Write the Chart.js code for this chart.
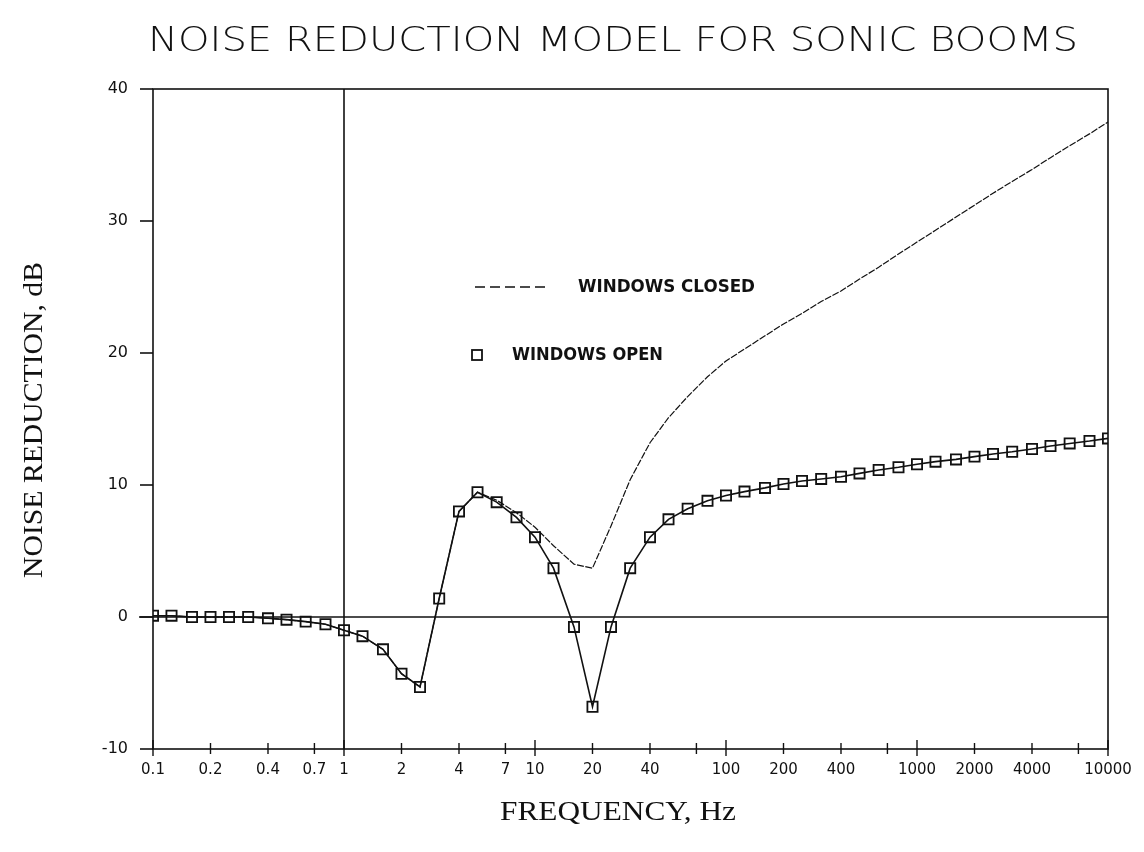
<!DOCTYPE html>
<html><head><meta charset="utf-8">
<script src="https://cdn.jsdelivr.net/npm/chart.js@4.4.1/dist/chart.umd.min.js"></script>
<style>html,body{margin:0;padding:0;background:#fff;} canvas{display:block;}</style>
</head><body>
<canvas id="c" width="1144" height="852"></canvas>
<script>
// ---- data (third-octave band frequencies, Hz) ----
const frequencies = [0.1,0.125,0.16,0.2,0.25,0.315,0.4,0.5,0.63,0.8,
  1,1.25,1.6,2,2.5,3.15,4,5,6.3,8,
  10,12.5,16,20,25,31.5,40,50,63,80,
  100,125,160,200,250,315,400,500,630,800,
  1000,1250,1600,2000,2500,3150,4000,5000,6300,8000,10000];
const windowsOpen = [0.1,0.1,0,0,0,0,-0.1,-0.2,-0.35,-0.55,
  -1.0,-1.45,-2.45,-4.3,-5.3,1.4,8.0,9.45,8.7,7.55,
  6.05,3.7,-0.75,-6.8,-0.75,3.7,6.05,7.4,8.2,8.8,
  9.2,9.5,9.78,10.08,10.3,10.46,10.63,10.88,11.14,11.34,
  11.57,11.77,11.94,12.15,12.35,12.52,12.73,12.95,13.15,13.33,13.53];
const windowsClosed = [0.1,0.1,0,0,0,0,-0.1,-0.2,-0.35,-0.55,
  -1.0,-1.45,-2.45,-4.3,-5.3,1.4,8.0,9.45,8.85,7.9,
  6.8,5.4,4.0,3.7,6.9,10.4,13.2,15.1,16.7,18.2,
  19.4,20.3,21.3,22.2,23.0,23.9,24.7,25.6,26.5,27.5,
  28.4,29.3,30.3,31.2,32.1,33.0,33.9,34.8,35.7,36.6,37.5];
const xTickValues = [0.1,0.2,0.4,0.7,1,2,4,7,10,20,40,70,100,200,400,700,1000,2000,4000,7000,10000];
const xTickLabels = ["0.1","0.2","0.4","0.7","1","2","4","7","10","20","40","","100","200","400","","1000","2000","4000","","10000"];
const yTickValues = [-10,0,10,20,30,40];
const yTickLabels = ["-10","0","10","20","30","40"];
const titleText = "NOISE REDUCTION MODEL FOR SONIC BOOMS";
const xTitle = "FREQUENCY, Hz";
const yTitle = "NOISE REDUCTION, dB";
const legendClosed = "WINDOWS CLOSED";
const legendOpen = "WINDOWS OPEN";

const INK = '#111';
const plotFont = '"DejaVu Sans", "Liberation Sans", sans-serif';
const serifFont = '"Liberation Serif", "DejaVu Serif", serif';

function fitText(ctx, text, x, y, targetW, font, align) {
  ctx.save();
  ctx.font = font;
  const w = ctx.measureText(text).width;
  const s = targetW / w;
  ctx.translate(x, y);
  ctx.scale(s, 1);
  ctx.textAlign = align || 'left';
  ctx.textBaseline = 'middle';
  ctx.fillText(text, 0, 0);
  ctx.restore();
}

const deco = {
  id: 'deco',
  beforeDatasetsDraw(chart) {
    const {ctx, chartArea: a, scales: {x, y}} = chart;
    ctx.save();
    ctx.strokeStyle = INK;
    ctx.lineWidth = 1.6;
    // frame
    ctx.strokeRect(a.left, a.top, a.right - a.left, a.bottom - a.top);
    // vertical line at 1 Hz
    const x1 = x.getPixelForValue(1);
    ctx.beginPath(); ctx.moveTo(x1, a.top); ctx.lineTo(x1, a.bottom); ctx.stroke();
    // horizontal line at 0 dB
    const y0 = y.getPixelForValue(0);
    ctx.lineWidth = 1.3;
    ctx.beginPath(); ctx.moveTo(a.left - 14, y0); ctx.lineTo(a.right, y0); ctx.stroke();
    // y tick marks
    ctx.lineWidth = 1.6;
    yTickValues.forEach(v => {
      const py = y.getPixelForValue(v);
      ctx.beginPath(); ctx.moveTo(a.left - 13, py); ctx.lineTo(a.left, py); ctx.stroke();
    });
    // x tick marks crossing the axis
    ctx.lineWidth = 1.4;
    xTickValues.forEach(v => {
      const px = x.getPixelForValue(v);
      const major = Math.abs(Math.log10(v) - Math.round(Math.log10(v))) < 1e-9;
      const up = major ? 9 : 6, dn = major ? 7 : 5;
      ctx.beginPath(); ctx.moveTo(px, a.bottom - up); ctx.lineTo(px, a.bottom + dn); ctx.stroke();
    });
    ctx.restore();
  },
  afterDraw(chart) {
    const {ctx} = chart;
    ctx.save();
    ctx.fillStyle = INK;
    // title
    fitText(ctx, titleText, 613, 42, 930, '200 34px ' + plotFont, 'center');
    // axis titles
    fitText(ctx, xTitle, 618, 813, 236, '28px ' + serifFont, 'center');
    ctx.save();
    ctx.translate(35, 420);
    ctx.rotate(-Math.PI / 2);
    fitText(ctx, yTitle, 0, 0, 316, '28px ' + serifFont, 'center');
    ctx.restore();
    // legend
    ctx.strokeStyle = INK;
    ctx.lineWidth = 1.6;
    ctx.setLineDash([10, 5]);
    ctx.beginPath(); ctx.moveTo(475, 287); ctx.lineTo(550, 287); ctx.stroke();
    ctx.setLineDash([]);
    fitText(ctx, legendClosed, 578, 287, 177, 'bold 18px ' + plotFont, 'left');
    ctx.lineWidth = 1.8;
    ctx.strokeRect(472, 350, 10, 10);
    fitText(ctx, legendOpen, 512, 355, 151, 'bold 18px ' + plotFont, 'left');
    ctx.restore();
  }
};

new Chart(document.getElementById('c'), {
  type: 'line',
  data: {
    datasets: [
      {
        label: legendClosed,
        data: frequencies.map((f, i) => ({x: f, y: windowsClosed[i]})),
        borderColor: INK,
        borderWidth: 1.2,
        borderDash: [7, 1.5],
        pointRadius: 0,
        tension: 0,
        fill: false
      },
      {
        label: legendOpen,
        data: frequencies.map((f, i) => ({x: f, y: windowsOpen[i]})),
        borderColor: INK,
        borderWidth: 1.6,
        pointStyle: 'rect',
        pointRadius: 7.2,
        pointBorderWidth: 1.8,
        pointBorderColor: INK,
        pointBackgroundColor: 'rgba(0,0,0,0)',
        tension: 0,
        fill: false
      }
    ]
  },
  options: {
    responsive: false,
    animation: false,
    devicePixelRatio: 1,
    layout: {padding: {top: 89, right: 36, left: 0, bottom: 0}},
    plugins: {legend: {display: false}, tooltip: {enabled: false}, title: {display: false}},
    scales: {
      x: {
        type: 'logarithmic',
        min: 0.1, max: 10000,
        border: {display: false},
        grid: {display: false, drawTicks: false},
        afterBuildTicks: s => { s.ticks = xTickValues.map(v => ({value: v})); },
        afterFit: s => { s.height = 103; },
        ticks: {
          autoSkip: false, maxRotation: 0, minRotation: 0, padding: 12,
          color: INK, font: {family: plotFont, size: 15},
          callback: (v, i) => xTickLabels[i]
        }
      },
      y: {
        type: 'linear',
        min: -10, max: 40,
        border: {display: false},
        grid: {display: false, drawTicks: false},
        afterBuildTicks: s => { s.ticks = yTickValues.map(v => ({value: v})); },
        afterFit: s => { s.width = 153; },
        ticks: {
          padding: 25, color: INK, font: {family: plotFont, size: 16},
          callback: (v, i) => yTickLabels[i]
        }
      }
    }
  },
  plugins: [deco]
});
</script>
</body></html>
